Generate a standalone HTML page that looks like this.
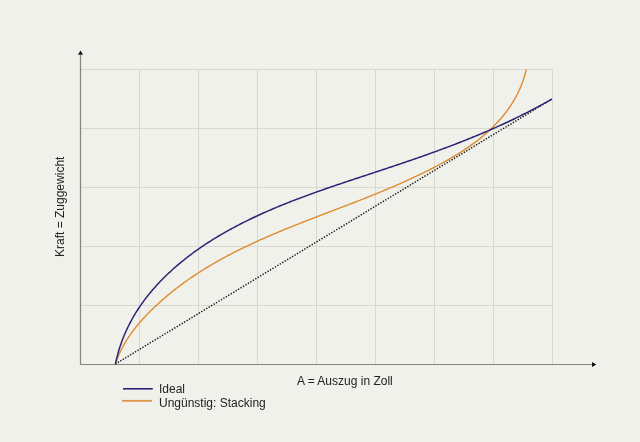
<!DOCTYPE html>
<html><head><meta charset="utf-8"><style>
html,body{margin:0;padding:0;width:640px;height:442px;overflow:hidden;background:#f1f1eb;}
svg{position:absolute;left:0;top:0;}
.t{position:absolute;font-family:"Liberation Sans",sans-serif;font-size:12px;color:#222;white-space:nowrap;line-height:1;will-change:transform;}
</style></head><body>
<svg width="640" height="442" viewBox="0 0 640 442">
<g stroke="#d8d7d0" stroke-width="1" fill="none">
<line x1="139.5" y1="69" x2="139.5" y2="364" /><line x1="198.5" y1="69" x2="198.5" y2="364" /><line x1="257.5" y1="69" x2="257.5" y2="364" /><line x1="316.5" y1="69" x2="316.5" y2="364" /><line x1="375.5" y1="69" x2="375.5" y2="364" /><line x1="434.5" y1="69" x2="434.5" y2="364" /><line x1="493.5" y1="69" x2="493.5" y2="364" /><line x1="552.5" y1="69" x2="552.5" y2="364" /><line x1="80" y1="69.5" x2="553" y2="69.5" /><line x1="80" y1="128.5" x2="553" y2="128.5" /><line x1="80" y1="187.5" x2="553" y2="187.5" /><line x1="80" y1="246.5" x2="553" y2="246.5" /><line x1="80" y1="305.5" x2="553" y2="305.5" />
</g>
<g stroke="#85847f" stroke-width="1.2" fill="none">
<line x1="80.5" y1="55" x2="80.5" y2="365"/>
<line x1="80" y1="364.5" x2="593" y2="364.5"/>
</g>
<polygon points="80.5,50.5 78,54.8 83,54.8" fill="#111"/>
<polygon points="596.3,364.5 592,362 592,367" fill="#111"/>
<line x1="115.4" y1="364" x2="552" y2="99" stroke="#111" stroke-width="1.5" stroke-dasharray="1.3 1.57" fill="none"/>
<polyline points="115.40,364.30 115.92,362.65 116.48,361.00 117.06,359.37 117.68,357.76 118.33,356.15 119.00,354.55 119.71,352.97 120.44,351.40 121.20,349.84 121.99,348.28 122.80,346.75 123.64,345.22 124.50,343.70 125.39,342.20 126.30,340.70 127.23,339.22 128.19,337.75 129.17,336.29 130.16,334.84 131.18,333.40 132.22,331.97 133.28,330.55 134.35,329.14 135.44,327.75 136.55,326.36 137.68,324.99 138.82,323.63 139.98,322.27 141.15,320.93 142.33,319.60 143.53,318.28 144.74,316.97 145.96,315.67 147.20,314.38 148.44,313.10 149.69,311.83 150.96,310.57 152.23,309.33 153.51,308.09 154.79,306.86 156.09,305.64 157.39,304.44 158.69,303.24 160.00,302.05 161.32,300.88 162.64,299.71 163.97,298.55 165.31,297.41 166.65,296.27 167.99,295.14 169.34,294.02 170.70,292.91 172.06,291.81 173.43,290.72 174.80,289.64 176.17,288.56 177.56,287.50 178.94,286.44 180.34,285.39 181.74,284.36 183.14,283.33 184.55,282.30 185.96,281.29 187.38,280.29 188.80,279.29 190.22,278.30 191.66,277.32 193.09,276.35 194.53,275.38 195.98,274.42 197.43,273.47 198.88,272.53 200.34,271.60 201.80,270.67 203.27,269.75 204.74,268.83 206.22,267.93 207.70,267.03 209.18,266.14 210.67,265.25 212.16,264.37 213.66,263.50 215.16,262.63 216.66,261.77 218.17,260.92 219.68,260.08 221.19,259.23 222.71,258.40 224.23,257.57 225.76,256.75 227.29,255.93 228.82,255.12 230.36,254.32 231.89,253.52 233.44,252.72 234.98,251.94 236.53,251.15 238.08,250.37 239.64,249.60 241.20,248.83 242.76,248.07 244.32,247.31 245.89,246.56 247.46,245.81 249.03,245.06 250.60,244.32 252.18,243.59 253.76,242.86 255.34,242.13 256.93,241.41 258.52,240.69 260.11,239.97 261.70,239.26 263.29,238.56 264.89,237.85 266.49,237.15 268.09,236.46 269.70,235.76 271.30,235.08 272.91,234.39 274.52,233.71 276.13,233.03 277.75,232.35 279.36,231.67 280.98,231.00 282.60,230.33 284.22,229.67 285.84,229.00 287.46,228.34 289.09,227.68 290.71,227.03 292.34,226.37 293.97,225.72 295.60,225.07 297.23,224.42 298.87,223.78 300.50,223.13 302.14,222.49 303.77,221.85 305.41,221.21 307.05,220.57 308.69,219.93 310.33,219.29 311.97,218.66 313.61,218.02 315.26,217.39 316.90,216.76 318.54,216.13 320.19,215.50 321.83,214.86 323.48,214.23 325.12,213.60 326.77,212.98 328.41,212.35 330.06,211.72 331.71,211.09 333.36,210.46 335.00,209.83 336.65,209.20 338.30,208.57 339.94,207.94 341.59,207.31 343.24,206.68 344.88,206.05 346.53,205.41 348.18,204.78 349.82,204.15 351.47,203.51 353.11,202.87 354.76,202.24 356.40,201.60 358.05,200.96 359.69,200.31 361.33,199.67 362.97,199.03 364.61,198.38 366.25,197.73 367.89,197.08 369.53,196.43 371.16,195.77 372.80,195.11 374.43,194.45 376.07,193.79 377.70,193.13 379.33,192.46 380.96,191.79 382.59,191.12 384.22,190.44 385.84,189.77 387.46,189.09 389.09,188.40 390.71,187.71 392.33,187.02 393.94,186.33 395.56,185.63 397.17,184.93 398.79,184.23 400.40,183.52 402.00,182.81 403.61,182.09 405.21,181.37 406.82,180.65 408.42,179.92 410.01,179.19 411.61,178.45 413.20,177.71 414.79,176.96 416.38,176.21 417.97,175.46 419.55,174.70 421.13,173.94 422.71,173.17 424.28,172.39 425.86,171.61 427.43,170.83 428.99,170.04 430.56,169.24 432.12,168.44 433.68,167.63 435.23,166.82 436.79,166.00 438.33,165.18 439.88,164.35 441.42,163.51 442.96,162.67 444.50,161.82 446.03,160.97 447.56,160.10 449.08,159.23 450.60,158.36 452.11,157.47 453.62,156.58 455.12,155.68 456.61,154.77 458.10,153.86 459.59,152.93 461.06,152.00 462.53,151.05 463.99,150.10 465.44,149.14 466.89,148.17 468.33,147.18 469.75,146.19 471.17,145.19 472.58,144.17 473.99,143.15 475.38,142.11 476.76,141.07 478.13,140.01 479.49,138.94 480.84,137.86 482.18,136.76 483.51,135.66 484.82,134.54 486.12,133.40 487.42,132.26 488.69,131.10 489.96,129.93 491.21,128.74 492.45,127.54 493.68,126.32 494.89,125.10 496.09,123.85 497.27,122.59 498.44,121.32 499.59,120.03 500.73,118.72 501.85,117.40 502.96,116.07 504.05,114.72 505.12,113.35 506.17,111.96 507.21,110.56 508.23,109.15 509.23,107.72 510.21,106.28 511.17,104.82 512.11,103.35 513.03,101.86 513.93,100.36 514.80,98.84 515.65,97.31 516.48,95.77 517.29,94.21 518.07,92.65 518.83,91.06 519.56,89.47 520.27,87.86 520.95,86.24 521.60,84.61 522.23,82.96 522.83,81.31 523.40,79.64 523.94,77.96 524.45,76.27 524.93,74.57 525.39,72.86 525.81,71.13 526.20,69.40" stroke="#de8b30" stroke-width="1.4" fill="none" stroke-linejoin="round"/>
<polyline points="115.40,364.30 115.77,362.48 116.16,360.67 116.57,358.88 117.01,357.09 117.46,355.31 117.94,353.55 118.43,351.79 118.94,350.05 119.47,348.32 120.03,346.60 120.60,344.89 121.19,343.19 121.79,341.50 122.42,339.83 123.06,338.16 123.73,336.50 124.41,334.86 125.11,333.23 125.82,331.60 126.56,329.99 127.31,328.39 128.07,326.80 128.86,325.22 129.66,323.65 130.48,322.09 131.31,320.54 132.16,319.00 133.02,317.47 133.90,315.95 134.80,314.44 135.71,312.95 136.64,311.46 137.58,309.98 138.54,308.51 139.51,307.06 140.49,305.61 141.49,304.17 142.50,302.75 143.53,301.33 144.57,299.92 145.62,298.53 146.69,297.14 147.77,295.76 148.86,294.39 149.97,293.04 151.09,291.69 152.22,290.35 153.36,289.02 154.51,287.71 155.68,286.40 156.85,285.10 158.04,283.81 159.24,282.53 160.45,281.26 161.67,280.00 162.91,278.74 164.15,277.50 165.40,276.27 166.66,275.04 167.93,273.83 169.22,272.62 170.51,271.43 171.81,270.24 173.12,269.06 174.43,267.90 175.76,266.74 177.10,265.59 178.44,264.44 179.79,263.31 181.15,262.19 182.52,261.07 183.89,259.97 185.28,258.87 186.66,257.78 188.06,256.71 189.46,255.63 190.87,254.57 192.29,253.52 193.71,252.48 195.14,251.44 196.58,250.41 198.02,249.39 199.46,248.38 200.91,247.38 202.37,246.39 203.83,245.40 205.30,244.43 206.77,243.46 208.25,242.50 209.73,241.54 211.22,240.60 212.72,239.66 214.21,238.73 215.72,237.81 217.23,236.89 218.74,235.99 220.26,235.09 221.78,234.19 223.31,233.31 224.84,232.43 226.38,231.56 227.92,230.69 229.47,229.84 231.02,228.99 232.57,228.14 234.13,227.30 235.69,226.47 237.26,225.65 238.83,224.83 240.41,224.02 241.99,223.21 243.57,222.41 245.16,221.62 246.75,220.83 248.34,220.05 249.94,219.28 251.54,218.51 253.15,217.74 254.76,216.99 256.37,216.23 257.98,215.49 259.60,214.74 261.22,214.01 262.85,213.28 264.48,212.55 266.11,211.83 267.74,211.11 269.38,210.40 271.02,209.70 272.66,208.99 274.31,208.30 275.95,207.60 277.61,206.92 279.26,206.23 280.91,205.55 282.57,204.88 284.23,204.21 285.90,203.54 287.56,202.88 289.23,202.22 290.90,201.57 292.57,200.92 294.24,200.27 295.92,199.63 297.59,198.99 299.27,198.35 300.95,197.72 302.64,197.09 304.32,196.46 306.01,195.84 307.69,195.22 309.38,194.60 311.07,193.99 312.76,193.38 314.45,192.77 316.15,192.16 317.84,191.56 319.54,190.96 321.24,190.36 322.93,189.77 324.63,189.17 326.33,188.58 328.03,187.99 329.73,187.41 331.44,186.82 333.14,186.24 334.84,185.66 336.54,185.08 338.25,184.50 339.95,183.93 341.66,183.35 343.36,182.78 345.07,182.21 346.77,181.64 348.48,181.07 350.18,180.50 351.89,179.93 353.59,179.37 355.29,178.80 357.00,178.24 358.70,177.68 360.41,177.11 362.11,176.55 363.81,175.99 365.51,175.43 367.22,174.87 368.92,174.31 370.62,173.75 372.32,173.19 374.01,172.63 375.71,172.07 377.41,171.50 379.10,170.94 380.80,170.38 382.49,169.82 384.18,169.26 385.87,168.70 387.56,168.14 389.25,167.57 390.94,167.01 392.62,166.44 394.31,165.88 395.99,165.31 397.67,164.75 399.36,164.18 401.04,163.61 402.71,163.04 404.39,162.47 406.07,161.90 407.74,161.32 409.42,160.75 411.09,160.17 412.76,159.60 414.43,159.02 416.10,158.44 417.77,157.86 419.44,157.28 421.10,156.69 422.77,156.10 424.43,155.52 426.09,154.93 427.75,154.34 429.41,153.74 431.07,153.15 432.73,152.55 434.39,151.95 436.04,151.35 437.70,150.75 439.35,150.14 441.00,149.53 442.65,148.92 444.30,148.31 445.95,147.69 447.59,147.08 449.24,146.46 450.88,145.83 452.53,145.21 454.17,144.58 455.81,143.95 457.45,143.32 459.09,142.68 460.72,142.04 462.36,141.40 463.99,140.75 465.63,140.10 467.26,139.45 468.89,138.80 470.52,138.14 472.15,137.48 473.77,136.81 475.40,136.15 477.03,135.47 478.65,134.80 480.27,134.12 481.89,133.44 483.51,132.75 485.13,132.06 486.75,131.37 488.36,130.67 489.98,129.97 491.59,129.27 493.21,128.56 494.82,127.84 496.43,127.13 498.04,126.40 499.64,125.68 501.25,124.95 502.86,124.21 504.46,123.48 506.06,122.73 507.66,121.98 509.26,121.23 510.86,120.48 512.46,119.71 514.06,118.95 515.65,118.18 517.25,117.40 518.84,116.62 520.43,115.83 522.02,115.04 523.61,114.25 525.20,113.45 526.78,112.64 528.37,111.83 529.95,111.01 531.54,110.19 533.12,109.36 534.70,108.53 536.28,107.69 537.86,106.85 539.43,106.00 541.01,105.15 542.58,104.29 544.15,103.42 545.73,102.55 547.30,101.67 548.87,100.79 550.43,99.90 552.00,99.00" stroke="#2d2574" stroke-width="1.5" fill="none" stroke-linejoin="round"/>
<line x1="123" y1="388.8" x2="152.8" y2="388.8" stroke="#2d2574" stroke-width="1.6"/>
<line x1="122" y1="400.8" x2="152" y2="400.8" stroke="#dd9445" stroke-width="1.8"/>
</svg>
<div class="t" style="left:159px;top:383px;">Ideal</div>
<div class="t" style="left:159px;top:397px;">Ungünstig: Stacking</div>
<div class="t" style="left:297.2px;top:375.0px;">A = Auszug in Zoll</div>
<div class="t" style="left:53.5px;top:257px;transform-origin:0 0;transform:rotate(-90deg);">Kraft = Zuggewicht</div>
</body></html>
